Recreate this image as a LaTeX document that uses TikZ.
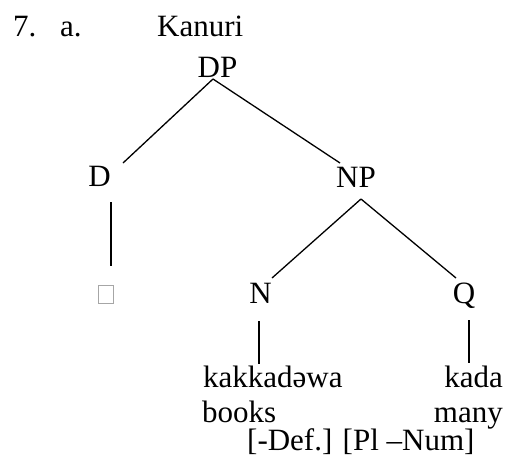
\documentclass[tikz,border=0pt]{standalone}
\usepackage{fontspec}
\setmainfont{Liberation Serif}
\begin{document}
\begin{tikzpicture}[x=1pt,y=-1pt,
  lbl/.style={inner sep=0pt,font=\fontsize{31}{37}\selectfont},
  edge/.style={line width=1.3pt,line cap=butt}]
\useasboundingbox (0,0) rectangle (509,461);
% header
\node[lbl,anchor=base west] (num) at (13,36) {7.};
\node[lbl,anchor=base west] (sub) at (60,36) {a.};
\node[lbl,anchor=base west] (lang) at (157,36) {Kanuri};
% tree labels
\node[lbl,anchor=base] (DP) at (217.5,77) {DP};
\node[lbl,anchor=base] (D) at (99.5,186) {D};
\node[lbl,anchor=base] (NP) at (356,187) {NP};
\node[lbl,anchor=base] (N) at (260.5,303) {N};
\node[lbl,anchor=base] (Q) at (464,303) {Q};
\node[draw=gray!70,line width=1pt,inner sep=0pt,minimum width=15pt,minimum height=18pt,anchor=north west] (empty) at (98,285) {};
\node[lbl,anchor=base west] (kak) at (203,387) {kakkadəwa};
\node[lbl,anchor=base east] (kada) at (503,387) {kada};
\node[lbl,anchor=base west] (books) at (202,422) {books};
\node[lbl,anchor=base east] (many) at (503,422) {many};
\node[lbl,anchor=base west] (feat) at (247,450) {[-Def.] [Pl –Num]};
% connector end points
\coordinate (DPb) at (213,79);
\coordinate (Dt) at (123,163);
\coordinate (NPt) at (340,163);
\coordinate (Db) at (111,202);
\coordinate (Ee) at (111,266);
\coordinate (NPb) at (361,199);
\coordinate (Nt) at (272,278);
\coordinate (Qt) at (456,278);
\coordinate (Nb) at (259,321);
\coordinate (Kt) at (259,364);
\coordinate (Qb) at (469,320);
\coordinate (Kdt) at (469,363);
% connectors
\draw[edge] (DPb) -- (Dt);
\draw[edge] (DPb) -- (NPt);
\draw[edge] (Db) -- (Ee);
\draw[edge] (NPb) -- (Nt);
\draw[edge] (NPb) -- (Qt);
\draw[edge] (Nb) -- (Kt);
\draw[edge] (Qb) -- (Kdt);
\end{tikzpicture}
\end{document}
